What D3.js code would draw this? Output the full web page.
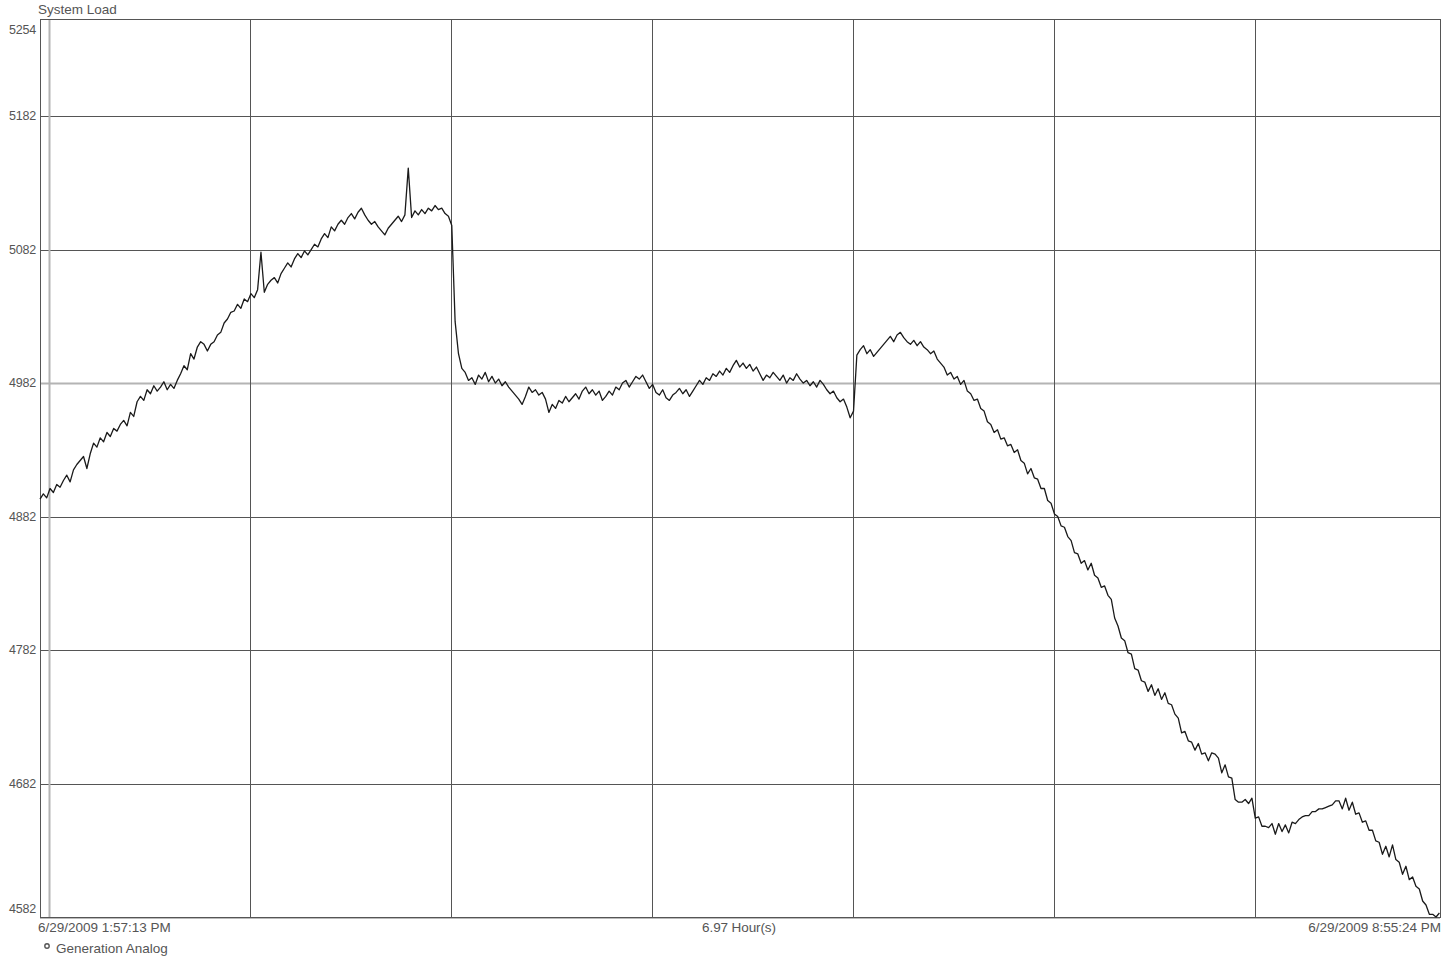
<!DOCTYPE html>
<html>
<head>
<meta charset="utf-8">
<script src="https://cdn.jsdelivr.net/npm/d3@7"></script>
<style>
  html, body { margin: 0; padding: 0; background: #fff; }
  svg { display: block; }
  text { font-family: "Liberation Sans", Arial, sans-serif; }
</style>
</head>
<body>
<svg id="chart" width="1443" height="957"></svg>
<script>
// ---- Data ----
const chartTitle = "System Load";
const seriesName = "Generation Analog";
const startTime = "2009-06-29T13:57:13";
const endTime = "2009-06-29T20:55:24";
const startLabel = "6/29/2009 1:57:13 PM";
const endLabel = "6/29/2009 8:55:24 PM";
const durationLabel = "6.97 Hour(s)";
const yTicks = [5254, 5182, 5082, 4982, 4882, 4782, 4682, 4582];
const yHighlight = [4982];
const sampleMinutes = 1; // one sample per minute after start
const loadValues = [
  4895, 4899, 4896, 4903, 4900, 4906, 4904, 4909, 4913, 4908,
  4917, 4921, 4924, 4927, 4918, 4929, 4937, 4934, 4941, 4938,
  4945, 4942, 4948, 4946, 4951, 4954, 4950, 4960, 4957, 4968,
  4972, 4969, 4977, 4974, 4980, 4976, 4979, 4983, 4977, 4981,
  4978, 4984, 4989, 4995, 4992, 5004, 5000, 5009, 5013, 5011,
  5006, 5011, 5013, 5018, 5020, 5027, 5030, 5035, 5036, 5041,
  5038, 5045, 5043, 5049, 5046, 5052, 5080, 5050, 5056, 5059,
  5061, 5057, 5064, 5068, 5072, 5069, 5075, 5079, 5076, 5081,
  5078, 5082, 5086, 5084, 5090, 5094, 5091, 5099, 5096, 5101,
  5104, 5101, 5106, 5109, 5105, 5110, 5113, 5108, 5104, 5101,
  5103, 5099, 5096, 5093, 5098, 5101, 5104, 5107, 5103, 5108,
  5143, 5106, 5111, 5108, 5112, 5109, 5113, 5111, 5115, 5112,
  5113, 5109, 5107, 5100, 5028, 5004, 4993, 4990, 4984, 4986,
  4981, 4988, 4985, 4990, 4983, 4987, 4982, 4985, 4980, 4983,
  4979, 4976, 4973, 4970, 4966, 4972, 4979, 4975, 4977, 4973,
  4975, 4970, 4960, 4966, 4963, 4969, 4967, 4972, 4968, 4971,
  4974, 4970, 4976, 4979, 4974, 4977, 4973, 4976, 4969, 4972,
  4976, 4973, 4979, 4977, 4982, 4984, 4979, 4983, 4987, 4985,
  4988, 4983, 4978, 4981, 4975, 4973, 4977, 4971, 4969, 4973,
  4975, 4978, 4974, 4977, 4972, 4976, 4980, 4984, 4981, 4986,
  4984, 4989, 4987, 4991, 4988, 4993, 4990, 4995, 4999, 4994,
  4997, 4993, 4996, 4991, 4994, 4989, 4984, 4988, 4986, 4990,
  4987, 4984, 4988, 4982, 4986, 4984, 4989, 4985, 4982, 4984,
  4980, 4983, 4979, 4984, 4981, 4977, 4974, 4976, 4971, 4968,
  4970, 4964, 4956, 4961, 5003, 5007, 5010, 5004, 5007, 5002,
  5005, 5008, 5011, 5014, 5017, 5013, 5018, 5020, 5016, 5013,
  5011, 5014, 5010, 5013, 5009, 5007, 5004, 5006, 5000, 4997,
  4994, 4988, 4990, 4985, 4987, 4981, 4984, 4976, 4974, 4969,
  4970, 4963, 4961, 4953, 4951, 4945, 4947, 4940, 4941, 4935,
  4936, 4930, 4932, 4924, 4922, 4914, 4918, 4911, 4910, 4903,
  4903, 4894, 4892, 4884, 4882, 4875, 4874, 4867, 4864, 4855,
  4854, 4847, 4849, 4842, 4847, 4838, 4836, 4829, 4830, 4823,
  4820, 4806, 4800, 4791, 4789, 4780, 4779, 4768, 4767, 4759,
  4758, 4751, 4756, 4748, 4753, 4745, 4750, 4742, 4741, 4734,
  4731, 4720, 4721, 4714, 4713, 4707, 4712, 4704, 4705, 4699,
  4705, 4704, 4701, 4690, 4696, 4687, 4686, 4670, 4668, 4668,
  4670, 4667, 4671, 4656, 4657, 4650, 4650, 4649, 4652, 4644,
  4652, 4646, 4651, 4645, 4653, 4652, 4655, 4657, 4658, 4658,
  4661, 4661, 4663, 4663, 4664, 4665, 4666, 4669, 4669, 4663,
  4671, 4662, 4668, 4659, 4660, 4653, 4654, 4647, 4647, 4639,
  4638, 4629, 4635, 4627, 4636, 4625, 4623, 4614, 4620, 4610,
  4612, 4605, 4603, 4594, 4591, 4584, 4584, 4582, 4585
];

// ---- Layout ----
const W = 1443, H = 957;
const plot = { left: 40, right: 1440, top: 20, bottom: 917 };

const svg = d3.select("#chart");
const t0 = new Date(startTime), t1 = new Date(endTime);
const x = d3.scaleTime().domain([t0, t1]).range([plot.left, plot.right]);
const y = d3.scaleLinear().domain([d3.min(yTicks), d3.max(yTicks)]).range([plot.bottom, plot.top]);

const data = loadValues.map((v, i) => ({ t: new Date(t0.getTime() + i * sampleMinutes * 60000), v }));

// background
svg.append("rect").attr("width", W).attr("height", H).attr("fill", "#fff");

// horizontal grid
const gy = svg.append("g").attr("class", "ygrid");
gy.selectAll("line").data(yTicks.filter(d => d !== d3.min(yTicks) && d !== d3.max(yTicks)))
  .join("line")
  .attr("x1", plot.left).attr("x2", plot.right)
  .attr("y1", d => Math.round(y(d)) + 0.5).attr("y2", d => Math.round(y(d)) + 0.5)
  .attr("stroke", d => yHighlight.includes(d) ? "#b4b4b4" : "#555")
  .attr("stroke-width", d => yHighlight.includes(d) ? 2 : 1);

// vertical grid at each hour
const hours = x.ticks(d3.timeHour.every(1));
const gx = svg.append("g").attr("class", "xgrid");
gx.selectAll("line").data(hours).join("line")
  .attr("x1", d => Math.round(x(d)) + 0.5).attr("x2", d => Math.round(x(d)) + 0.5)
  .attr("y1", plot.top).attr("y2", plot.bottom)
  .attr("stroke", (d, i) => i === 0 ? "#b4b4b4" : "#555")
  .attr("stroke-width", (d, i) => i === 0 ? 2 : 1);

// plot border
svg.append("rect")
  .attr("x", plot.left + 0.5).attr("y", plot.top - 0.5)
  .attr("width", plot.right - plot.left).attr("height", plot.bottom - plot.top + 1)
  .attr("fill", "none").attr("stroke", "#555").attr("stroke-width", 1);
svg.append("line").attr("x1", plot.left).attr("x2", plot.right)
  .attr("y1", plot.bottom + 1.5).attr("y2", plot.bottom + 1.5)
  .attr("stroke", "#bbb").attr("stroke-width", 1);

// line
const line = d3.line().x(d => x(d.t)).y(d => y(d.v));
svg.append("path").datum(data)
  .attr("d", line)
  .attr("fill", "none")
  .attr("stroke", "#1a1a1a")
  .attr("stroke-width", 1.3)
  .attr("stroke-linejoin", "round");

// y labels
svg.append("g").selectAll("text").data(yTicks).join("text")
  .attr("x", 36)
  .attr("y", d => Math.max(30, Math.min(909, y(d))))
  .attr("dy", "0.35em")
  .attr("text-anchor", "end")
  .attr("font-size", 12.5)
  .attr("fill", "#555")
  .attr("letter-spacing", "-0.2")
  .text(d => d);

// title
svg.append("text").attr("x", 38).attr("y", 14)
  .attr("font-size", 13.5).attr("fill", "#555").text(chartTitle);

// x labels
const xlabFont = 13.5;
svg.append("text").attr("x", 38).attr("y", 932)
  .attr("font-size", xlabFont).attr("fill", "#555").text(startLabel);
svg.append("text").attr("x", x(new Date((t0.getTime() + t1.getTime()) / 2)) - 1).attr("y", 932)
  .attr("text-anchor", "middle")
  .attr("font-size", xlabFont).attr("fill", "#555").attr("letter-spacing", "-0.1").text(durationLabel);
svg.append("text").attr("x", 1441).attr("y", 932)
  .attr("text-anchor", "end")
  .attr("font-size", xlabFont).attr("fill", "#555").text(endLabel);

// legend
svg.append("circle").attr("cx", 47).attr("cy", 946).attr("r", 2.2)
  .attr("fill", "#fff").attr("stroke", "#555").attr("stroke-width", 1.4);
svg.append("text").attr("x", 56).attr("y", 953)
  .attr("font-size", 13.5).attr("fill", "#555").text(seriesName);
</script>
</body>
</html>
